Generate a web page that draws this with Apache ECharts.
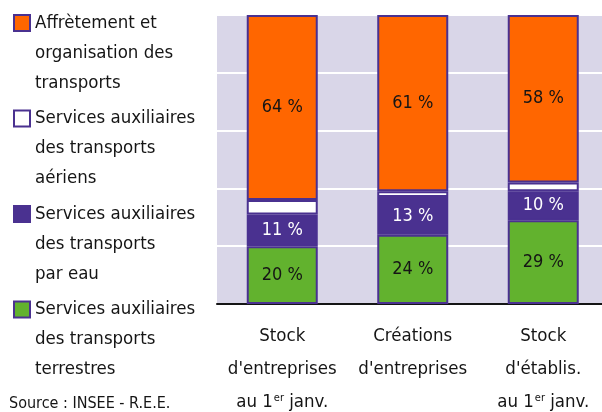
<!DOCTYPE html>
<html>
<head>
<meta charset="utf-8">
<script src="https://cdn.jsdelivr.net/npm/echarts@6/dist/echarts.min.js"></script>
<style>
  html, body { margin: 0; padding: 0; background: #fff; }
  #chart { width: 602px; height: 412px; }
</style>
</head>
<body>
<div id="chart"></div>
<script>
// categories and values (parts in %)
const categories = [
  "Stock\nd'entreprises\nau 1{sup|er} janv.",
  "Créations\nd'entreprises",
  "Stock\nd'établis.\nau 1{sup|er} janv."
];
const seriesNames = [
  "Affrètement et\norganisation des\ntransports",
  "Services auxiliaires\ndes transports\naériens",
  "Services auxiliaires\ndes transports\npar eau",
  "Services auxiliaires\ndes transports\nterrestres"
];
const terrestres = [20, 24, 29];
const parEau = [11, 13, 10];
const aeriens = [5, 2, 3];
const affretement = [64, 61, 58];
const yTicks = [0, 20, 40, 60, 80, 100];

const font = "'DejaVu Sans Condensed', 'Liberation Sans Narrow', sans-serif";
const purple = "#4A3190";
const ink = "#151515";
const colors = {
  aff: "#FF6600",
  aer: "#FFFFFF",
  eau: "#4A3190",
  ter: "#62B22E"
};

var chart = echarts.init(document.getElementById("chart"));

function barSeries(name, data, color, labelColor, showLabel) {
  return {
    name: name,
    type: "bar",
    stack: "total",
    data: data,
    barWidth: 71,
    itemStyle: {
      color: color,
      borderColor: purple,
      borderWidth: 2
    },
    label: {
      show: showLabel,
      position: "inside",
      formatter: "{c} %",
      color: labelColor,
      fontFamily: font,
      fontSize: 18
    }
  };
}

// one legend block per item; two blank lines put the square on the first line
const legends = seriesNames.map(function (n, i) {
  return {
    data: [n],
    orient: "vertical",
    left: 13,
    top: -52 + i * 95.5,
    padding: 0,
    itemWidth: 16,
    itemHeight: 16,
    icon: "rect",
    selectedMode: false,
    formatter: function (name) {
      return "\n\n" + name;
    },
    itemStyle: { borderColor: purple, borderWidth: 2 },
    textStyle: {
      fontFamily: font,
      fontSize: 18.5,
      lineHeight: 30,
      color: ink
    }
  };
});

const option = {
  animation: false,
  title: {
    text: "Source : INSEE - R.E.E.",
    left: 9,
    top: 396,
    padding: 0,
    textStyle: {
      fontFamily: font,
      fontSize: 16,
      fontWeight: "normal",
      color: ink
    }
  },
  legend: legends,
  grid: {
    left: 217,
    right: -6.5,
    top: 15,
    bottom: 108,
    outerBoundsMode: "none",
    containLabel: false,
    show: true,
    backgroundColor: "#D9D6E8",
    borderWidth: 0
  },
  xAxis: [
    {
      type: "category",
      data: categories,
      axisLine: { lineStyle: { color: ink, width: 2 } },
      axisTick: { length: 10, lineStyle: { color: ink, width: 2 } },
      axisLabel: {
        interval: 0,
        margin: 16,
        color: ink,
        fontFamily: font,
        fontSize: 18.5,
        lineHeight: 33,
        rich: {
          sup: {
            fontFamily: font,
            fontSize: 11,
            color: ink,
            verticalAlign: "top",
            padding: [7, 0, 0, 1]
          }
        }
      }
    },
    {
      type: "category",
      data: categories,
      position: "bottom",
      axisLine: { show: false },
      axisTick: { inside: true, length: 5, lineStyle: { color: ink, width: 2 } },
      axisLabel: { show: false }
    }
  ],
  yAxis: {
    type: "value",
    min: yTicks[0],
    max: yTicks[yTicks.length - 1],
    interval: yTicks[1] - yTicks[0],
    axisLine: { show: false },
    axisTick: { show: false },
    axisLabel: { show: false },
    splitLine: { lineStyle: { color: "#FFFFFF", width: 2 } }
  },
  series: [
    barSeries(seriesNames[3], terrestres, colors.ter, ink, true),
    barSeries(seriesNames[2], parEau, colors.eau, "#FFFFFF", true),
    barSeries(seriesNames[1], aeriens, colors.aer, ink, false),
    barSeries(seriesNames[0], affretement, colors.aff, ink, true)
  ]
};
chart.setOption(option);
</script>
</body>
</html>
